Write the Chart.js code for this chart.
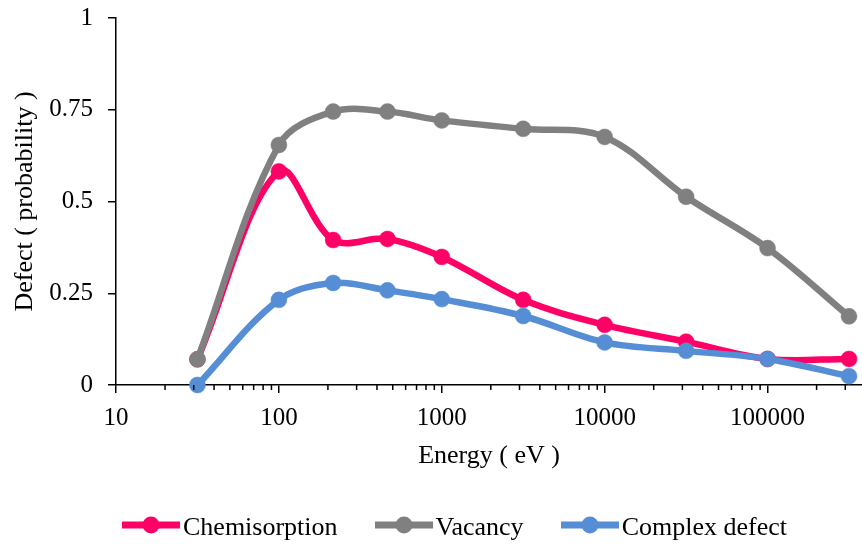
<!DOCTYPE html>
<html><head><meta charset="utf-8">
<script src="https://cdn.jsdelivr.net/npm/chart.js@4"></script>
<style>
html,body{margin:0;padding:0;background:#fff;overflow:hidden;}
#wrap{position:relative;width:862px;height:544px;}
#c{display:block;}
#legend{position:absolute;left:122px;top:512px;display:flex;height:30px;font-family:"Liberation Serif","Times New Roman",serif;font-size:26px;line-height:30px;color:#000;white-space:nowrap;}
.item{display:flex;align-items:flex-start;margin-right:37px;}
.item svg{margin-right:3px;display:block;}
</style></head>
<body><div id="wrap"><canvas id="c" width="862" height="544"></canvas><div id="legend"></div></div>
<script>
// ---- data ----
const energies = [31.62, 100, 215.4, 464.2, 1000, 3162, 10000, 31623, 100000, 316228];
const chemisorption = [0.070, 0.582, 0.395, 0.398, 0.349, 0.232, 0.164, 0.118, 0.071, 0.071];
const vacancy = [0.070, 0.654, 0.745, 0.745, 0.721, 0.698, 0.676, 0.513, 0.373, 0.187];
const complexDefect = [0.000, 0.232, 0.278, 0.258, 0.234, 0.188, 0.116, 0.093, 0.071, 0.024];
const seriesNames = ['Chemisorption', 'Vacancy', 'Complex defect'];
const seriesColors = ['#FF0066', '#808080', '#558ED5'];
const xTickLabels = ['10', '100', '1000', '10000', '100000'];
const yTickLabels = ['0', '0.25', '0.5', '0.75', '1'];
const xTitle = 'Energy ( eV )';
const yTitle = 'Defect ( probability )';

const FONT = '"Liberation Serif", "Times New Roman", serif';
const seriesValues = [chemisorption, vacancy, complexDefect];

function isPow10(v) {
  if (!(v > 0)) return false;
  const l = Math.log10(v);
  return Math.abs(l - Math.round(l)) < 1e-9;
}

const minorTicks = {
  id: 'minorTicks',
  afterDraw(chart) {
    const s = chart.scales.x, ctx = chart.ctx;
    ctx.save();
    ctx.strokeStyle = '#000';
    ctx.lineWidth = 1.5;
    s.ticks.forEach(t => {
      const v = t.value;
      if (isPow10(v)) return;
      const e = Math.floor(Math.log10(v) + 1e-9);
      const sig = v / Math.pow(10, e);
      if (Math.abs(sig - Math.round(sig)) > 1e-6) return;
      const px = s.getPixelForValue(v);
      ctx.beginPath();
      ctx.moveTo(px, s.top);
      ctx.lineTo(px, s.top + 5);
      ctx.stroke();
    });
    ctx.restore();
  }
};

const datasets = seriesNames.map((name, i) => ({
  label: name,
  data: energies.map((x, j) => ({ x: x, y: seriesValues[i][j] })),
  borderColor: seriesColors[i],
  backgroundColor: seriesColors[i],
  pointBackgroundColor: seriesColors[i],
  pointBorderColor: seriesColors[i],
  borderWidth: 6.5,
  pointRadius: 8,
  pointBorderWidth: 0.5,
  tension: 0.35,
  clip: false,
  order: 3 - i
}));

new Chart(document.getElementById('c'), {
  type: 'line',
  data: { datasets },
  plugins: [minorTicks],
  options: {
    responsive: false,
    animation: false,
    events: [],
    layout: { autoPadding: false, padding: { left: 0, right: 0, top: 18, bottom: 60 } },
    plugins: { legend: { display: false }, tooltip: { enabled: false } },
    scales: {
      x: {
        type: 'logarithmic',
        min: 10,
        max: 380000,
        afterFit(scale) { scale.height = 99; scale.paddingLeft = 0; scale.paddingRight = 0; },
        border: { display: true, color: '#000', width: 1.5 },
        grid: {
          drawOnChartArea: false,
          drawTicks: true,
          tickLength: 8,
          lineWidth: 1.5,
          tickWidth: 1.5,
          tickColor: ctx => (ctx.tick && isPow10(ctx.tick.value)) ? '#000' : 'rgba(0,0,0,0)'
        },
        ticks: {
          autoSkip: false,
          maxRotation: 0,
          padding: 10,
          color: '#000',
          font: { family: FONT, size: 25 },
          callback: v => { const s = String(v); return xTickLabels.includes(s) ? s : ''; }
        },
        title: {
          display: true,
          text: xTitle,
          color: '#000',
          font: { family: FONT, size: 26 },
          padding: { top: 0, bottom: 12 }
        }
      },
      y: {
        min: 0,
        max: 1,
        afterFit(scale) { scale.width = 116; scale.paddingTop = 0; scale.paddingBottom = 0; },
        border: { display: true, color: '#000', width: 1.5 },
        grid: {
          drawOnChartArea: false,
          drawTicks: true,
          tickLength: 8,
          lineWidth: 1.5,
          tickWidth: 1.5,
          tickColor: '#000'
        },
        ticks: {
          stepSize: 0.25,
          padding: 15,
          color: '#000',
          font: { family: FONT, size: 25 },
          callback: v => yTickLabels.find(l => Math.abs(Number(l) - v) < 1e-9) ?? ''
        },
        title: {
          display: true,
          text: yTitle,
          color: '#000',
          font: { family: FONT, size: 26 },
          padding: { top: 10, bottom: 0 }
        }
      }
    }
  }
});

// HTML legend built from the series arrays
const legend = document.getElementById('legend');
const svgNS = 'http://www.w3.org/2000/svg';
seriesNames.forEach((name, i) => {
  const item = document.createElement('div');
  item.className = 'item';
  const svg = document.createElementNS(svgNS, 'svg');
  svg.setAttribute('width', '58');
  svg.setAttribute('height', '30');
  const line = document.createElementNS(svgNS, 'line');
  line.setAttribute('x1', '0'); line.setAttribute('x2', '58');
  line.setAttribute('y1', '13'); line.setAttribute('y2', '13');
  line.setAttribute('stroke', seriesColors[i]);
  line.setAttribute('stroke-width', '7');
  line.setAttribute('stroke-linecap', 'round');
  const circ = document.createElementNS(svgNS, 'circle');
  circ.setAttribute('cx', '29'); circ.setAttribute('cy', '13'); circ.setAttribute('r', '8.5');
  circ.setAttribute('fill', seriesColors[i]);
  svg.appendChild(line); svg.appendChild(circ);
  const txt = document.createElement('span');
  txt.textContent = name;
  item.appendChild(svg); item.appendChild(txt);
  legend.appendChild(item);
});
</script>
</body></html>
